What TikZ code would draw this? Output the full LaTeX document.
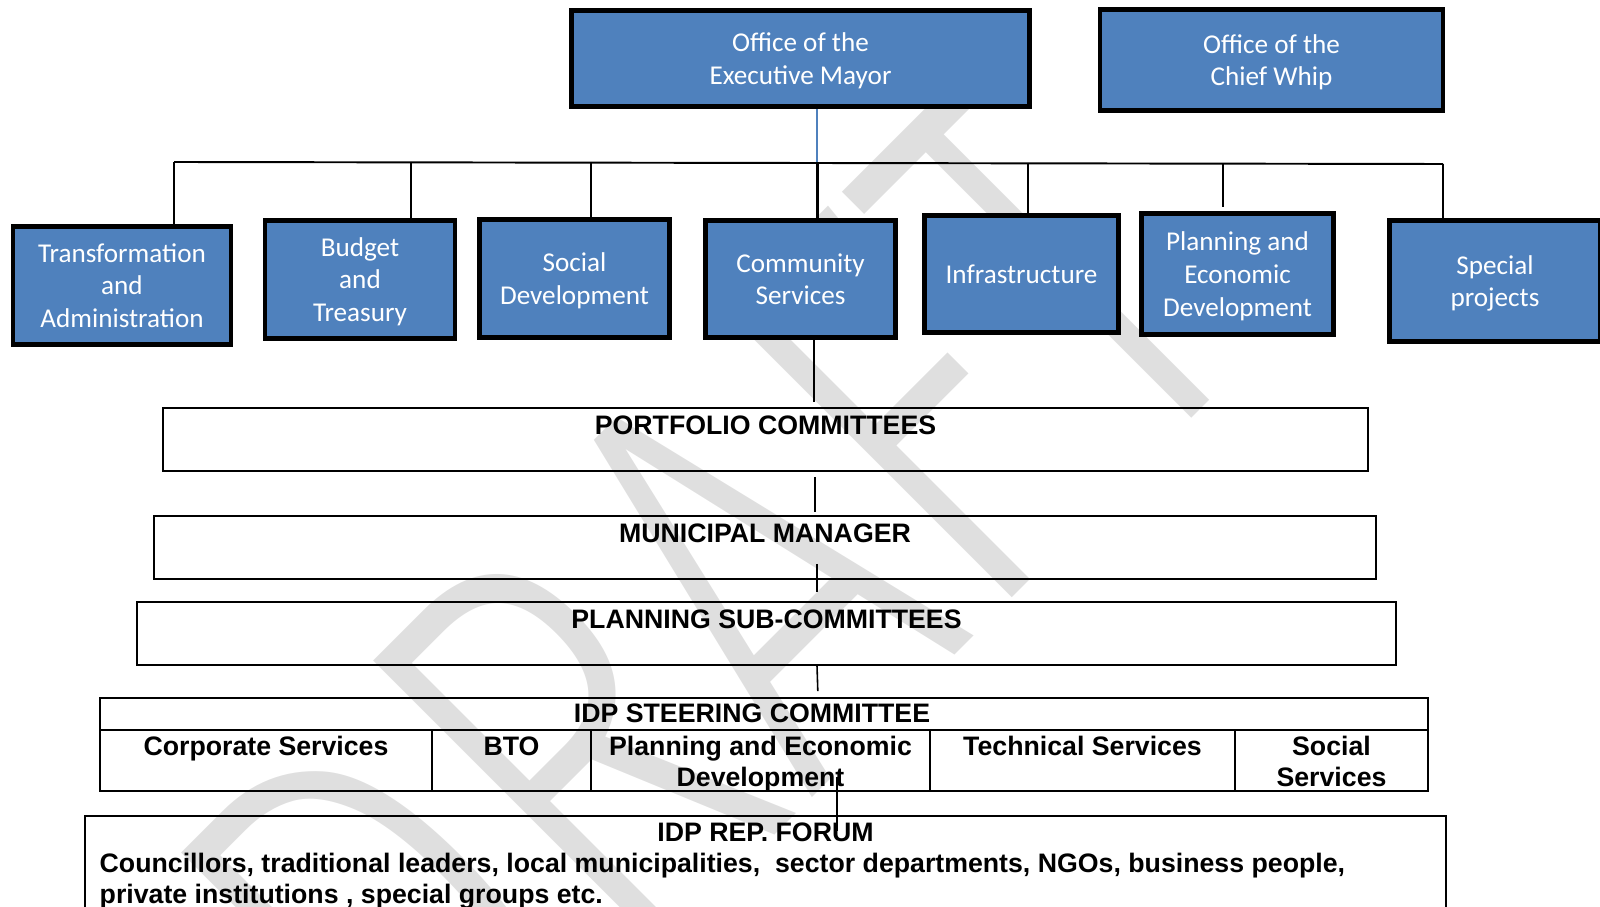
\documentclass[tikz,border=0pt]{standalone}
\usepackage{fontspec}
\usepackage{graphicx}
\usepackage{tikz}
\usepackage{xcolor}
\newfontfamily\calibri{Carlito}
\newfontfamily\arial{Liberation Sans}
\newfontfamily\stamp{Fira Sans}[UprightFont=* Light]
\definecolor{officeblue}{RGB}{79,129,189}

\begin{document}
\begin{tikzpicture}[x=1cm,y=1cm,
  unit/.style={draw=black,line width=1.3pt,fill=officeblue,text=white,align=center,inner sep=0pt,text depth=0pt,
    font=\calibri\fontsize{7.73}{9.27}\selectfont},
  panel/.style={draw=black,line width=0.5pt,inner sep=0pt,text height=7.4pt,text depth=10.5pt,
    font=\arial\bfseries\fontsize{7.6}{8.7}\selectfont},
  cell/.style={draw=black,line width=0.5pt,inner sep=0pt,align=center,text height=7.25pt,text depth=10.1pt,
    font=\arial\bfseries\fontsize{7.6}{8.7}\selectfont},
  cell2/.style={cell,text height=15.95pt,text depth=1.4pt},
  link/.style={line width=0.55pt},
  thinlink/.style={line width=0.45pt}]
\clip (0,0) rectangle (16,-9.07);
\node[anchor=base west,rotate=45,text=gray!25,inner sep=0pt,font=\stamp\fontsize{169}{169}\selectfont] (draft) at (4.35,-11.75) {\resizebox{11.88cm}{\height}{DRAFT}};

\node[unit,minimum width=4.585cm,minimum height=0.96cm] (mayor) at (8.005,-0.585) {Office of the\\Executive Mayor};
\node[unit,minimum width=3.43cm,minimum height=1.015cm] (whip) at (12.715,-0.60) {Office of the\\Chief Whip};
\node[unit,minimum width=2.18cm,minimum height=1.185cm] (trans) at (1.22,-2.855) {Transformation\\and\\Administration};
\node[unit,minimum width=1.90cm,minimum height=1.185cm] (budget) at (3.60,-2.795) {Budget\\and\\Treasury};
\node[unit,minimum width=1.905cm,minimum height=1.185cm] (social) at (5.745,-2.785) {Social\\Development};
\node[unit,minimum width=1.905cm,minimum height=1.175cm] (community) at (8.005,-2.79) {Community\\Services};
\node[unit,minimum width=1.945cm,minimum height=1.175cm] (infra) at (10.215,-2.74) {Infrastructure};
\node[unit,minimum width=1.925cm,minimum height=1.215cm] (ped) at (12.375,-2.74) {Planning and\\Economic\\Development};
\node[unit,minimum width=2.115cm,minimum height=1.215cm] (special) at (14.95,-2.81) {Special\\projects};

\node[panel,minimum width=12.05cm] (portfolio) at (7.655,-4.395) {PORTFOLIO COMMITTEES};
\node[panel,minimum width=12.22cm] (manager) at (7.65,-5.475) {MUNICIPAL MANAGER};
\node[panel,minimum width=12.59cm] (subcom) at (7.665,-6.335) {PLANNING SUB-COMMITTEES};

\node[cell,minimum width=13.28cm,text height=6.97pt,text depth=2.13pt] (steer) at (7.64,-7.14) {IDP STEERING COMMITTEE\hspace{0.24cm}};
\node[cell,minimum width=3.32cm] (corp) at (2.66,-7.605) {Corporate Services};
\node[cell,minimum width=1.59cm] (bto) at (5.115,-7.605) {BTO};
\node[cell2,minimum width=3.39cm] (pedcell) at (7.605,-7.605) {Planning and Economic\\Development};
\node[cell,minimum width=3.05cm] (tech) at (10.825,-7.605) {Technical Services};
\node[cell2,minimum width=1.93cm] (socserv) at (13.315,-7.605) {Social\\Services};

\node[cell,minimum width=13.61cm,text depth=33.7pt] (forum) at (7.655,-8.88) {IDP REP. FORUM};
\node[anchor=base west,align=left,inner sep=0pt,font=\arial\bfseries\fontsize{7.6}{8.7}\selectfont] (members) at (0.99,-9.035)
  {Councillors, traditional leaders, local municipalities, \ sector departments, NGOs, business people,\\private institutions , special groups etc.};

\draw[officeblue,line width=0.6pt] (8.17,0 |- mayor.south) -- (8.17,-1.63);
\draw[link] (1.74,-1.62) -- (14.43,-1.64);
\draw[link] (1.74,-1.62) -- (1.74,0 |- trans.north);
\draw[link,line width=0.8pt] (4.11,-1.625) -- (4.11,0 |- budget.north);
\draw[link] (5.91,-1.625) -- (5.91,0 |- social.north);
\draw[link,line width=0.85pt] (8.17,-1.63) -- (8.17,0 |- community.north);
\draw[link] (10.28,-1.63) -- (10.28,0 |- infra.north);
\draw[link,shorten >=0.04cm] (12.23,-1.635) -- (12.23,0 |- ped.north);
\draw[link] (14.43,-1.64) -- (14.43,0 |- special.north);

\draw[link,shorten >=0.05cm] (8.14,0 |- community.south) -- (8.14,0 |- portfolio.north);
\draw[thinlink,shorten <=0.05cm,shorten >=0.03cm] (8.15,0 |- portfolio.south) -- (8.15,0 |- manager.north);
\draw[thinlink,shorten <=-0.16cm,shorten >=0.09cm] (8.17,0 |- manager.south) -- (8.17,0 |- subcom.north);
\draw[thinlink,shorten >=0.06cm] (8.17,0 |- subcom.south) -- (8.18,0 |- steer.north);
\draw[thinlink,shorten <=-0.15cm,shorten >=-0.16cm] (8.37,0 |- pedcell.south) -- (8.37,0 |- forum.north);
\end{tikzpicture}
\end{document}
